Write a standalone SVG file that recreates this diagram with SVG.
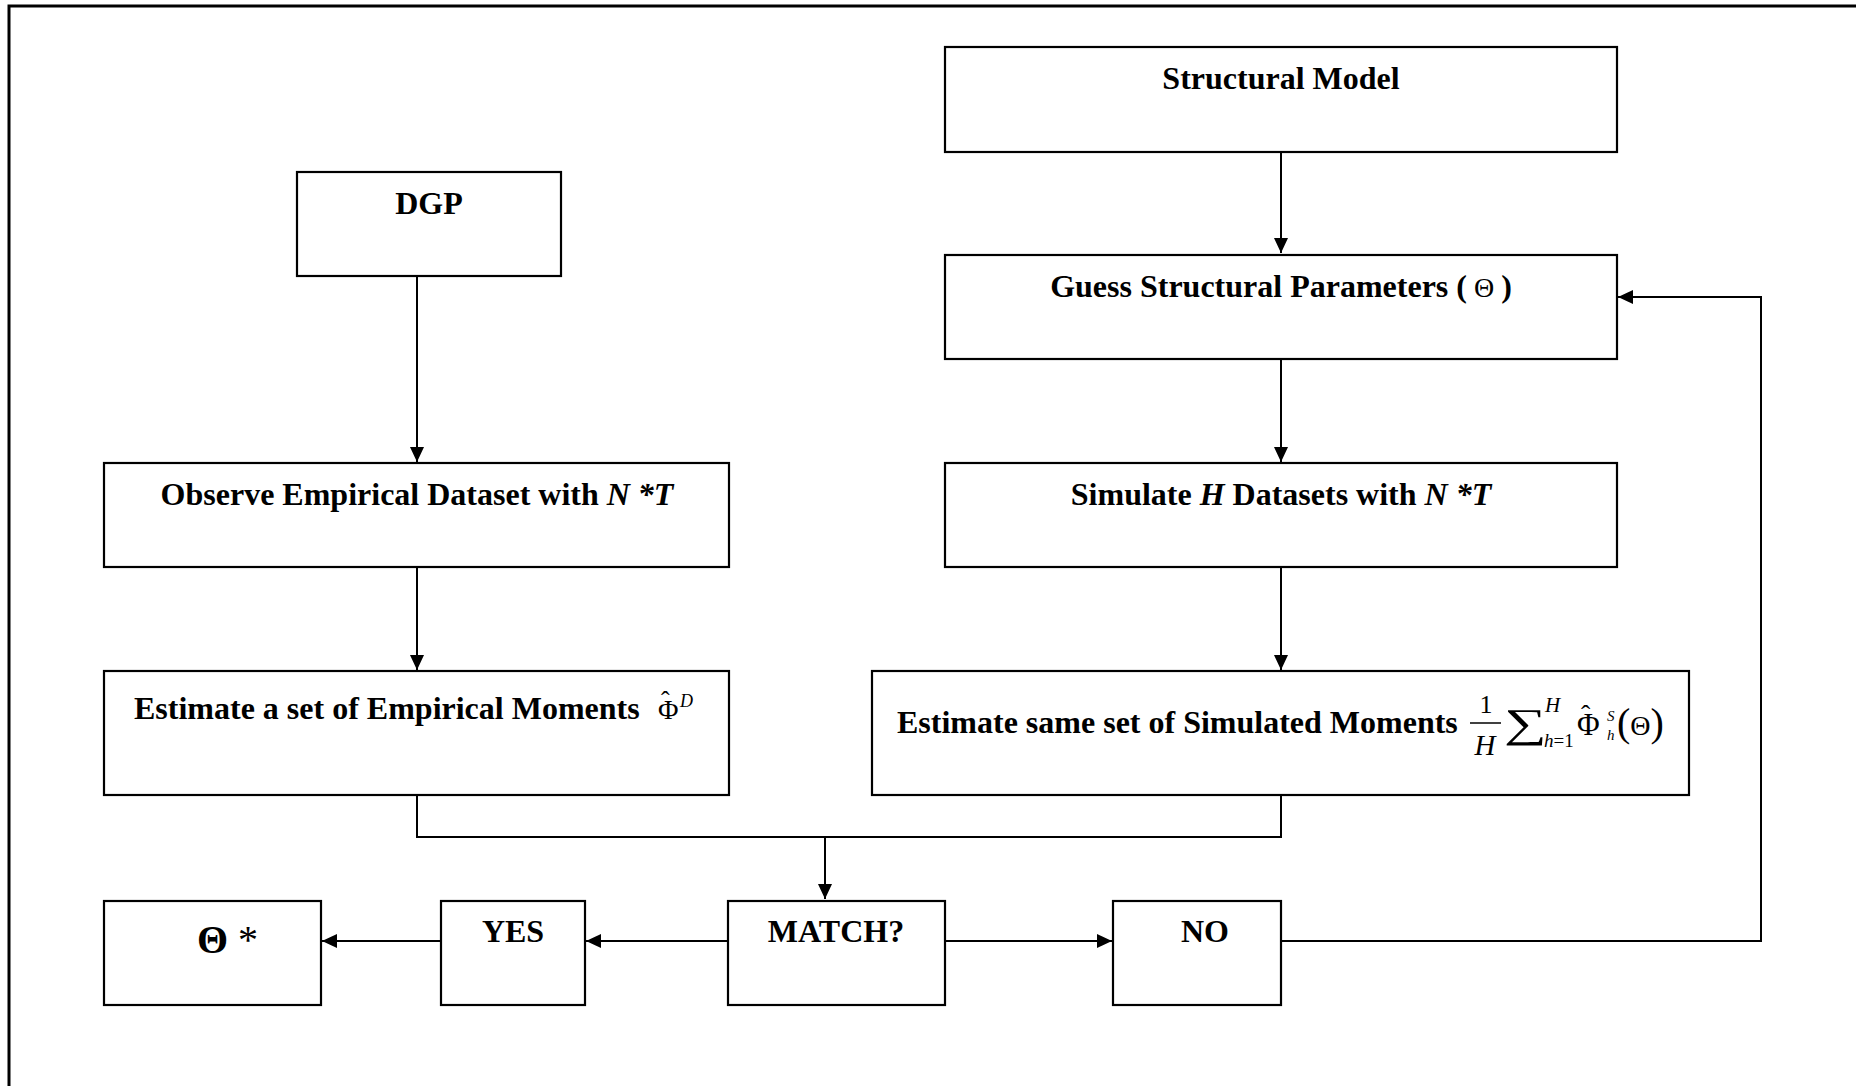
<svg xmlns="http://www.w3.org/2000/svg" width="1856" height="1086" viewBox="0 0 1856 1086">
<defs>
<style>
.box{fill:#fff;stroke:#000;stroke-width:2.2}
.lbl{font-family:"Liberation Serif","Times New Roman",serif;font-weight:bold;font-size:32px;fill:#000}
.m{font-family:"Liberation Serif","Times New Roman",serif;fill:#000}
.con{fill:none;stroke:#000;stroke-width:2}
</style>
<marker id="ah" markerUnits="userSpaceOnUse" markerWidth="16" markerHeight="14" refX="15" refY="7" orient="auto">
<path d="M0,0 L15,7 L0,14 z" fill="#000"/>
</marker>
</defs>
<rect width="1856" height="1086" fill="#fff"/>
<path d="M9,1086 V6 H1856" fill="none" stroke="#000" stroke-width="3"/>
<g id="connectors">
<path class="con" d="M1281,152 V253" marker-end="url(#ah)"/>
<path class="con" d="M417,276 V462" marker-end="url(#ah)"/>
<path class="con" d="M417,567 V670" marker-end="url(#ah)"/>
<path class="con" d="M1281,359 V462" marker-end="url(#ah)"/>
<path class="con" d="M1281,567 V670" marker-end="url(#ah)"/>
<path class="con" d="M417,795 V837 H1281 V795"/>
<path class="con" d="M825,837 V899" marker-end="url(#ah)"/>
<path class="con" d="M728,941 H586" marker-end="url(#ah)"/>
<path class="con" d="M440,941 H322" marker-end="url(#ah)"/>
<path class="con" d="M945,941 H1112" marker-end="url(#ah)"/>
<path class="con" d="M1281,941 H1761 V297 H1618" marker-end="url(#ah)"/>
</g>
<g id="structural-model">
<rect class="box" x="945" y="47" width="672" height="105"/>
<text class="lbl" x="1281" y="89" text-anchor="middle">Structural Model</text>
</g>
<g id="dgp">
<rect class="box" x="297" y="172" width="264" height="104"/>
<text class="lbl" x="429" y="214" text-anchor="middle">DGP</text>
</g>
<g id="guess">
<rect class="box" x="945" y="255" width="672" height="104"/>
<text class="lbl" x="1281" y="297" text-anchor="middle">Guess Structural Parameters (<tspan font-weight="normal" font-size="28"> Θ </tspan>)</text>
</g>
<g id="observe">
<rect class="box" x="104" y="463" width="625" height="104"/>
<text class="lbl" x="417" y="505" text-anchor="middle">Observe Empirical Dataset with <tspan font-style="italic">N *T</tspan></text>
</g>
<g id="simulate">
<rect class="box" x="945" y="463" width="672" height="104"/>
<text class="lbl" x="1281" y="505" text-anchor="middle">Simulate <tspan font-style="italic">H</tspan> Datasets with <tspan font-style="italic">N *T</tspan></text>
</g>
<g id="estimate-empirical">
<rect class="box" x="104" y="671" width="625" height="124"/>
<text class="lbl" x="134" y="719">Estimate a set of Empirical Moments</text>
<text class="m" x="658" y="719" font-size="28">Φ<tspan x="661" y="709" font-size="26">ˆ</tspan><tspan x="680" y="707" font-size="18" font-style="italic">D</tspan></text>
</g>
<g id="estimate-simulated">
<rect class="box" x="872" y="671" width="817" height="124"/>
<text class="lbl" x="897" y="733">Estimate same set of Simulated Moments</text>
<text class="m" x="1486" y="713" font-size="26" text-anchor="middle">1</text>
<line x1="1470" y1="723" x2="1501" y2="723" stroke="#000" stroke-width="1.5"/>
<text class="m" x="1485" y="755" font-size="29" font-style="italic" text-anchor="middle">H</text>
<text class="m" transform="translate(1504,737) scale(1.05,0.72)" font-size="57">∑</text>
<text class="m" x="1545" y="712" font-size="21" font-style="italic">H</text>
<text class="m" x="1544" y="747" font-size="19"><tspan font-style="italic">h</tspan>=1</text>
<text class="m" x="1577" y="735" font-size="31">Φ<tspan x="1581" y="724" font-size="28">ˆ</tspan></text>
<text class="m" x="1607" y="721" font-size="15" font-style="italic">S</text>
<text class="m" x="1607" y="740" font-size="15" font-style="italic">h</text>
<text class="m" x="1617" y="736" font-size="40">(<tspan font-size="28" dy="-1">Θ</tspan><tspan dy="1">)</tspan></text>
</g>
<g id="theta-star">
<rect class="box" x="104" y="901" width="217" height="104"/>
<text class="m" x="197" y="953" font-size="40" font-weight="bold">Θ</text>
<text class="m" x="238" y="953" font-size="40">*</text>
</g>
<g id="yes">
<rect class="box" x="441" y="901" width="144" height="104"/>
<text class="lbl" x="513" y="942" text-anchor="middle">YES</text>
</g>
<g id="match">
<rect class="box" x="728" y="901" width="217" height="104"/>
<text class="lbl" x="836" y="942" text-anchor="middle">MATCH?</text>
</g>
<g id="no">
<rect class="box" x="1113" y="901" width="168" height="104"/>
<text class="lbl" x="1205" y="942" text-anchor="middle">NO</text>
</g>
</svg>
